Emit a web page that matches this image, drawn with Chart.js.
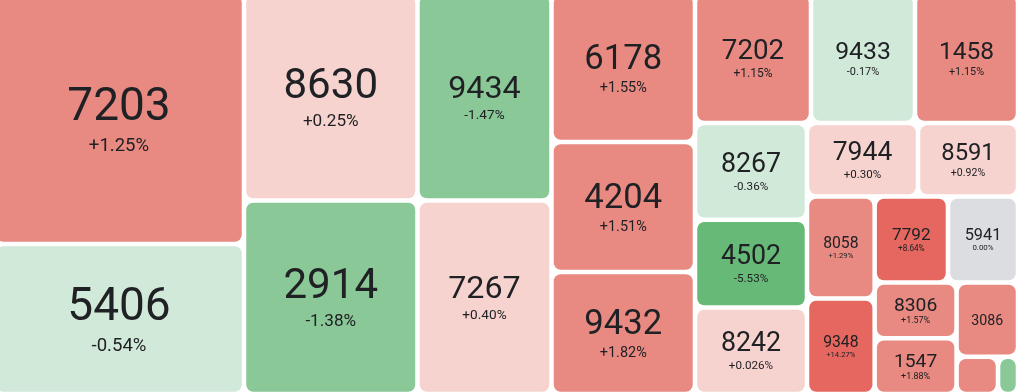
<!DOCTYPE html>
<html>
<head>
<meta charset="utf-8">
<script src="https://cdn.jsdelivr.net/npm/chart.js@4/dist/chart.umd.min.js"></script>
<style>
  html, body { margin: 0; padding: 0; background: #fff; overflow: hidden; }
  #wrap { position: absolute; left: -6px; top: -6px; width: 1024px; height: 400px; }
</style>
</head>
<body>
<div id="wrap"><canvas id="myChart"></canvas></div>
<script>
// cell values, biggest first (treemap is laid out in this order)
const labels = ['7203', '5406', '8630', '2914', '9434', '7267', '6178', '4204', '9432',
  '7202', '9433', '1458', '8267', '4502', '8242', '7944', '8591', '8058', '9348',
  '7792', '5941', '8306', '1547', '3086', '', ''];
const sizes = [62500, 37500, 35828, 33572, 27671, 25929, 21238, 18655, 17507,
  14964, 13416, 13287, 10830, 9834, 9688, 8159, 7350, 6905, 6465,
  6304, 6020, 4570, 4565, 4560, 1548, 746];
const changes = [1.25, -0.54, 0.25, -1.38, -1.47, 0.40, 1.55, 1.51, 1.82,
  1.15, -0.17, 1.15, -0.36, -5.53, 0.026, 0.30, 0.92, 1.29, 14.27,
  8.64, 0.00, 1.57, 1.88, 1.2, 1.2, -1.2];
const changeLabels = ['+1.25%', '-0.54%', '+0.25%', '-1.38%', '-1.47%', '+0.40%', '+1.55%', '+1.51%', '+1.82%',
  '+1.15%', '-0.17%', '+1.15%', '-0.36%', '-5.53%', '+0.026%', '+0.30%', '+0.92%', '+1.29%', '+14.27%',
  '+8.64%', '0.00%', '+1.57%', '+1.88%', '', '', ''];

const W = 1024, H = 400;
const FONT = 'Roboto, "Noto Sans", sans-serif';

//colour by change
const colorFor = (c) => {
  if (c >= 5) return '#e5675f';
  if (c >= 1) return '#e88a82';
  if (c > 0) return '#f6d3cf';
  if (c === 0) return '#dcdde0';
  if (c > -1) return '#d1e9d9';
  if (c > -5) return '#8ac898';
  return '#66b977';
};

//squarified treemap layout, in scale units
const worst = (row, side) => {
  let s = 0, mx = -Infinity, mn = Infinity;
  row.forEach(a => { s += a; mx = Math.max(mx, a); mn = Math.min(mn, a); });
  return Math.max(side * side * mx / (s * s), (s * s) / (side * side * mn));
};

const squarify = (values, x, y, w, h) => {
  const total = values.reduce((a, b) => a + b, 0);
  const areas = values.map(v => v * w * h / total);
  const rects = [];
  let i = 0;
  while (i < areas.length) {
    const side = Math.min(w, h);
    const row = [areas[i]];
    let j = i + 1;
    while (j < areas.length && worst([...row, areas[j]], side) <= worst(row, side)) {
      row.push(areas[j]);
      j++;
    }
    const s = row.reduce((a, b) => a + b, 0);
    if (w >= h) {
      const cw = s / h;
      let yy = y;
      row.forEach(a => { rects.push({ x: x, y: yy, w: cw, h: a / cw }); yy += a / cw; });
      x += cw; w -= cw;
    } else {
      const rh = s / w;
      let xx = x;
      row.forEach(a => { rects.push({ x: xx, y: y, w: a / rh, h: rh }); xx += a / rh; });
      y += rh; h -= rh;
    }
    i = j;
  }
  return rects;
};

const cells = squarify(sizes, 0, 0, W, H);

const treemapPlugin = {
  id: 'treemap',
  afterDatasetsDraw(chart) {
    const ctx = chart.ctx;
    const xs = chart.scales.x, ys = chart.scales.y;
    const gap = 2.25;
    cells.forEach((r, i) => {
      const x0 = xs.getPixelForValue(r.x) + gap;
      const x1 = xs.getPixelForValue(r.x + r.w) - gap;
      const y0 = ys.getPixelForValue(r.y) + gap;
      const y1 = ys.getPixelForValue(r.y + r.h) - gap;
      const cw = x1 - x0, ch = y1 - y0;
      ctx.save();
      ctx.fillStyle = colorFor(changes[i]);
      ctx.beginPath();
      ctx.roundRect(x0, y0, cw, ch, Math.min(7, cw / 2, ch / 2));
      ctx.fill();

      if (labels[i]) {
        ctx.font = '100px ' + FONT;
        const ratio = ctx.measureText(labels[i]).width / 100;
        const f = Math.min(46, 0.56 * cw / ratio, ch * 0.4);
        const pct = changeLabels[i];
        const pf = f * 0.36 + 2;
        const gapT = f * 0.42 - 2;
        const cx = (x0 + x1) / 2, cy = (y0 + y1) / 2;
        const capN = f * 0.71, capP = pf * 0.71;
        const block = pct ? capN + gapT + capP : capN;
        const top = cy - block / 2;
        ctx.fillStyle = '#202124';
        ctx.textAlign = 'center';
        ctx.textBaseline = 'alphabetic';
        ctx.font = f + 'px ' + FONT;
        ctx.fillText(labels[i], cx, top + capN);
        if (pct) {
          ctx.font = pf + 'px ' + FONT;
          ctx.fillText(pct, cx, top + capN + gapT + capP);
        }
      }
      ctx.restore();
    });
  }
};

const chartCtx = document.getElementById('myChart').getContext('2d');
window.myChart = new Chart(chartCtx, {
  type: 'scatter',
  data: { datasets: [{ data: [], pointRadius: 0 }] },
  options: {
    responsive: true,
    maintainAspectRatio: false,
    animation: false,
    events: [],
    layout: { padding: 0 },
    plugins: { legend: { display: false }, tooltip: { enabled: false } },
    scales: {
      x: { type: 'linear', min: 0, max: W, display: false },
      y: { type: 'linear', min: 0, max: H, reverse: true, display: false }
    }
  },
  plugins: [treemapPlugin]
});
</script>
</body>
</html>
